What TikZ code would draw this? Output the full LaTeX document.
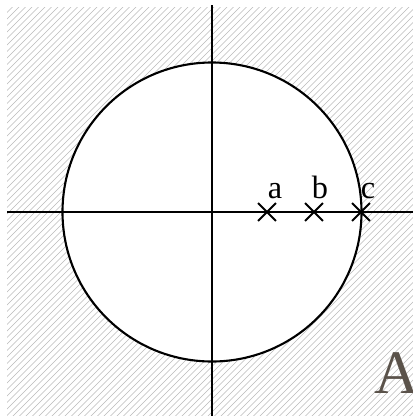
\documentclass[tikz,border=0pt]{standalone}
\usepackage{fontspec}
\setmainfont{Liberation Serif}
\usetikzlibrary{shapes.misc}
\definecolor{lettergray}{RGB}{90,82,74}

\begin{document}
\begin{tikzpicture}[x=0.025cm, y=-0.025cm,
  axis/.style={draw=black, line width=1.5pt},
  hatch/.style={draw=black!27, line width=0.4pt},
  pt/.style={cross out, draw=black, line width=1.3pt, minimum size=0.4cm, inner sep=0pt},
  lbl/.style={font=\fontsize{23}{23}\selectfont, inner sep=0pt, anchor=base}]
\useasboundingbox (0,0) rectangle (413,416);
\coordinate (o) at (212,212);
% hatched plane outside the disc
\begin{scope}[even odd rule]
  \clip (7,7) rectangle (413,416) (o) circle (149.5);
  \foreach \k in {0,6.5,...,840} \draw[hatch] (\k-420,420) -- (\k,0);
\end{scope}
\draw[axis] (o) circle (149.5);
% axes
\coordinate (xl) at (7,212);
\coordinate (xr) at (413,212);
\coordinate (yt) at (212,5);
\coordinate (yb) at (212,416);
\draw[axis] (xl) -- (xr);
\draw[axis] (yt) -- (yb);
% points
\node[pt] (a) at (267,212) {};
\node[pt] (b) at (314,212) {};
\node[pt] (c) at (361,212) {};
\node[lbl] (la) at (275,198) {a};
\node[lbl] (lb) at (320,198) {b};
\node[lbl] (lc) at (368,198) {c};
\node[font=\fontsize{44}{44}\selectfont, text=lettergray, inner sep=0pt, anchor=base west] (A) at (374,393) {A};
\end{tikzpicture}
\end{document}
